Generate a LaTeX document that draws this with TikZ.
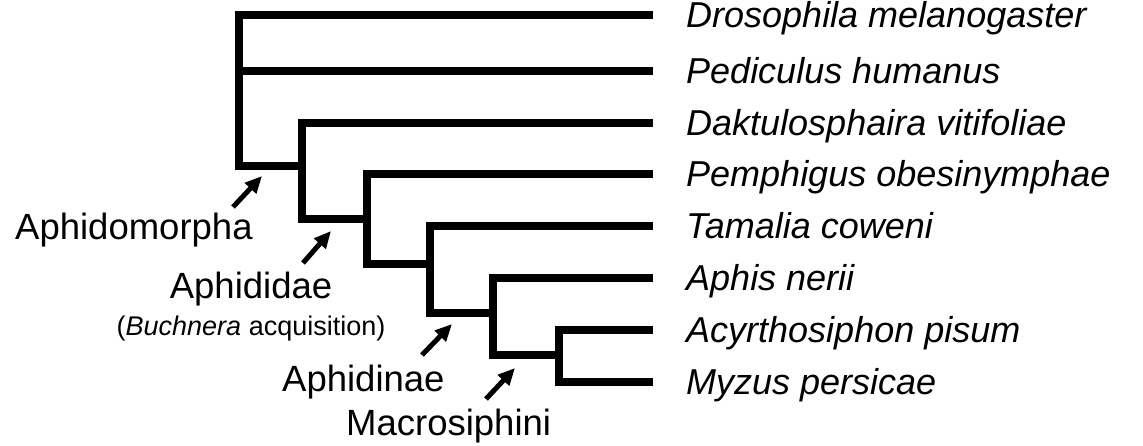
\documentclass[tikz,border=0pt]{standalone}
\usepackage{fontspec}
\setmainfont{Liberation Sans}
\usetikzlibrary{arrows.meta,positioning}
\tikzset{
  branch/.style={line width=8.5pt, line cap=rect, line join=miter, draw=black},
  pointer/.style={-{Triangle[length=17pt,width=15pt]}, line width=5pt, draw=black},
  taxon/.style={font=\fontsize{36}{40}\selectfont\itshape, inner sep=0pt, text height=25.8pt, text depth=0pt},
  clade/.style={font=\fontsize{36.5}{40}\selectfont, inner sep=0pt},
  note/.style={font=\fontsize{27}{30}\selectfont, inner sep=0pt}
}

\begin{document}
\begin{tikzpicture}[x=1pt, y=-1pt]
  \useasboundingbox (0,0) rectangle (1143,445);

  % tips of the leaf branches
  \coordinate (e1) at (649,15);
  \coordinate (e2) at (649,71);
  \coordinate (e3) at (649,123);
  \coordinate (e4) at (649,174);
  \coordinate (e5) at (649,226);
  \coordinate (e6) at (649,278);
  \coordinate (e7) at (649,330);
  \coordinate (e8) at (649,382);

  % inner nodes
  \coordinate (n1) at (239,166);
  \coordinate (n2) at (302,166);
  \coordinate (n3) at (367,219);
  \coordinate (n4) at (430,264);
  \coordinate (n5) at (493,313);
  \coordinate (n6) at (559,355);

  \node[taxon, right=37pt of e1] (dmel) {Drosophila melanogaster};
  \node[taxon, right=37pt of e2] (phum) {Pediculus humanus};
  \node[taxon, right=37pt of e3] (dvit) {Daktulosphaira vitifoliae};
  \node[taxon, right=37pt of e4] (pobe) {Pemphigus obesinymphae};
  \node[taxon, right=37pt of e5] (tcow) {Tamalia coweni};
  \node[taxon, right=37pt of e6] (aner) {Aphis nerii};
  \node[taxon, right=37pt of e7] (apis) {Acyrthosiphon pisum};
  \node[taxon, right=37pt of e8] (mper) {Myzus persicae};

  \draw[branch] (e1) -| (n1) -- (n2);
  \draw[branch] (e2) -- (e2 -| n1);
  \draw[branch] (e3) -| (n2) |- (n3);
  \draw[branch] (e4) -| (n3) |- (n4);
  \draw[branch] (e5) -| (n4) |- (n5);
  \draw[branch] (e6) -| (n5) |- (n6);
  \draw[branch] (e7) -| (n6) |- (e8);

  % clade labels
  \node[clade, anchor=base west] (aphm) at (15,239) {Aphidomorpha};
  \node[clade, anchor=base] (aphd) at (251,298) {Aphididae};
  \node[note, anchor=base] (buch) at (251,335) {(\textit{Buchnera} acquisition)};
  \node[clade, anchor=base west] (aphn) at (282,391) {Aphidinae};
  \node[clade, anchor=base west] (macr) at (346,435) {Macrosiphini};

  \coordinate (a1) at (233,207); \coordinate (h1) at (262,176);
  \coordinate (a2) at (303,263); \coordinate (h2) at (331,231);
  \coordinate (a3) at (422,355); \coordinate (h3) at (452,324);
  \coordinate (a4) at (486,399); \coordinate (h4) at (515,368);

  \draw[pointer] (a1) -- (h1);
  \draw[pointer] (a2) -- (h2);
  \draw[pointer] (a3) -- (h3);
  \draw[pointer] (a4) -- (h4);
\end{tikzpicture}
\end{document}
